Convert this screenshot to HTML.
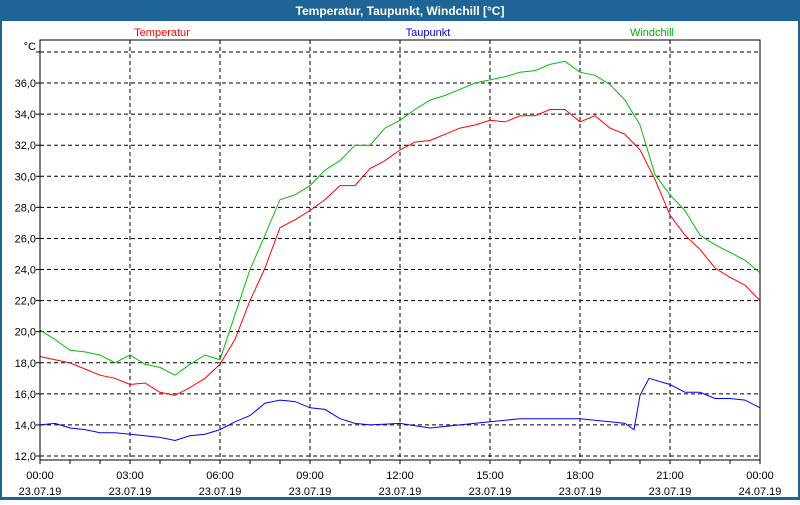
<!DOCTYPE html>
<html><head><meta charset="utf-8"><style>
body{margin:0;width:800px;height:500px;overflow:hidden;background:#fff;font-family:"Liberation Sans","DejaVu Sans",sans-serif}
</style></head><body>
<svg width="800" height="500" xmlns="http://www.w3.org/2000/svg" id="chart">
<rect x="0" y="0" width="800" height="500" fill="#1e6496"/>
<rect x="2" y="21" width="796" height="476" fill="#fff"/>
<text x="400" y="15" fill="#fff" font-size="12" font-weight="bold" text-anchor="middle">Temperatur, Taupunkt, Windchill [°C]</text>
<text x="162" y="36" fill="#ff0000" font-size="11" text-anchor="middle">Temperatur</text>
<text x="428" y="36" fill="#0000ff" font-size="11" text-anchor="middle">Taupunkt</text>
<text x="652" y="36" fill="#00b000" font-size="11" text-anchor="middle">Windchill</text>
<text x="36" y="50" fill="#000" font-size="11" text-anchor="end">°C</text>
<g id="grid"></g><g id="series"></g>
<rect x="40" y="40" width="720" height="420" fill="none" stroke="#000" stroke-width="1"/>
</svg>
<script>
const hours=[0,0.5,1,1.5,2,2.5,3,3.5,4,4.5,5,5.5,6,6.5,7,7.5,8,8.5,9,9.5,10,10.5,11,11.5,12,12.5,13,13.5,14,14.5,15,15.5,16,16.5,17,17.5,18,18.5,19,19.5,20,20.5,21,21.5,22,22.5,23,23.5,24];
const temperatur=[18.4,18.2,18.0,17.6,17.2,17.0,16.6,16.7,16.1,15.9,16.4,17.0,17.9,19.5,22.0,24.1,26.7,27.2,27.8,28.5,29.4,29.4,30.5,31.0,31.7,32.2,32.3,32.7,33.1,33.3,33.6,33.5,33.9,33.9,34.3,34.3,33.5,33.9,33.1,32.7,31.7,29.8,27.5,26.2,25.3,24.1,23.5,23.0,22.0];
const windchill=[20.1,19.5,18.8,18.7,18.5,18.0,18.5,17.9,17.7,17.2,17.9,18.5,18.2,21.1,24.0,26.2,28.5,28.8,29.4,30.4,31.0,32.0,32.0,33.1,33.6,34.3,34.9,35.2,35.6,36.0,36.2,36.4,36.7,36.8,37.2,37.4,36.7,36.5,35.9,34.9,33.3,30.1,28.8,27.8,26.2,25.6,25.1,24.6,23.8];
const dewHours=[0,0.5,1,1.5,2,2.5,3,3.5,4,4.5,5,5.5,6,6.5,7,7.5,8,8.5,9,9.5,10,10.5,11,12,13,14,15,16,17,18,19,19.5,19.8,20,20.3,21,21.5,22,22.5,23,23.5,24];
const taupunkt=[14.0,14.1,13.8,13.7,13.5,13.5,13.4,13.3,13.2,13.0,13.3,13.4,13.7,14.2,14.6,15.4,15.6,15.5,15.1,15.0,14.4,14.1,14.0,14.1,13.8,14.0,14.2,14.4,14.4,14.4,14.2,14.1,13.7,15.9,17.0,16.6,16.1,16.1,15.7,15.7,15.6,15.1];
const yTicks=[12,14,16,18,20,22,24,26,28,30,32,34,36,38];
const xTickLabels=["00:00","03:00","06:00","09:00","12:00","15:00","18:00","21:00","00:00"];
const dateLabels=["23.07.19","23.07.19","23.07.19","23.07.19","23.07.19","23.07.19","23.07.19","23.07.19","24.07.19"];
const NS="http://www.w3.org/2000/svg";
const X=h=>40+h*30;
const Y=v=>456-(v-12)*15.54;
const grid=document.getElementById('grid'),ser=document.getElementById('series');
function mk(tag,attrs,parent,txt){const e=document.createElementNS(NS,tag);for(const k in attrs)e.setAttribute(k,attrs[k]);if(txt!==undefined)e.textContent=txt;parent.appendChild(e);return e;}
yTicks.forEach(v=>{
  const l=mk('line',{x1:40,x2:760,y1:Y(v),y2:Y(v),stroke:'#000','stroke-dasharray':'4,3','stroke-width':1},grid);
  
  
  const t=mk('line',{x1:36,x2:40,y1:Y(v),y2:Y(v),stroke:'#000'},grid);
  
  
  if(v<38){const tx=mk('text',{x:36,y:Y(v)+4,'font-size':11,'text-anchor':'end',fill:'#000'},grid,v.toFixed(1).replace('.',','));
  
  }
});
for(let h=0;h<=24;h++){
  const t=mk('line',{x1:X(h),x2:X(h),y1:460,y2:464,stroke:'#000'},grid);
  
  
}
xTickLabels.forEach((s,i)=>{
  const h=i*3;
  if(i>0&&i<8){const l=mk('line',{x1:X(h),x2:X(h),y1:40,y2:460,stroke:'#000','stroke-dasharray':'4,3'},grid);
  
  }
  const t=mk('text',{x:X(h),y:479,'font-size':11,'text-anchor':'middle',fill:'#000'},grid,s);
  
  
  const d=mk('text',{x:X(h),y:495,'font-size':11,'text-anchor':'middle',fill:'#000'},grid,dateLabels[i]);
  
  
});
function line(xs,vs,color,name){
  const p=mk('polyline',{points:xs.map((h,i)=>X(h).toFixed(1)+','+Y(vs[i]).toFixed(1)).join(' '),fill:'none',stroke:color,'stroke-width':1},ser);
  
  
}
line(hours,windchill,'#00c000','windchill-line');
line(hours,temperatur,'#ff0000','temperatur-line');
line(dewHours,taupunkt,'#0000ff','taupunkt-line');
</script>
</body></html>
